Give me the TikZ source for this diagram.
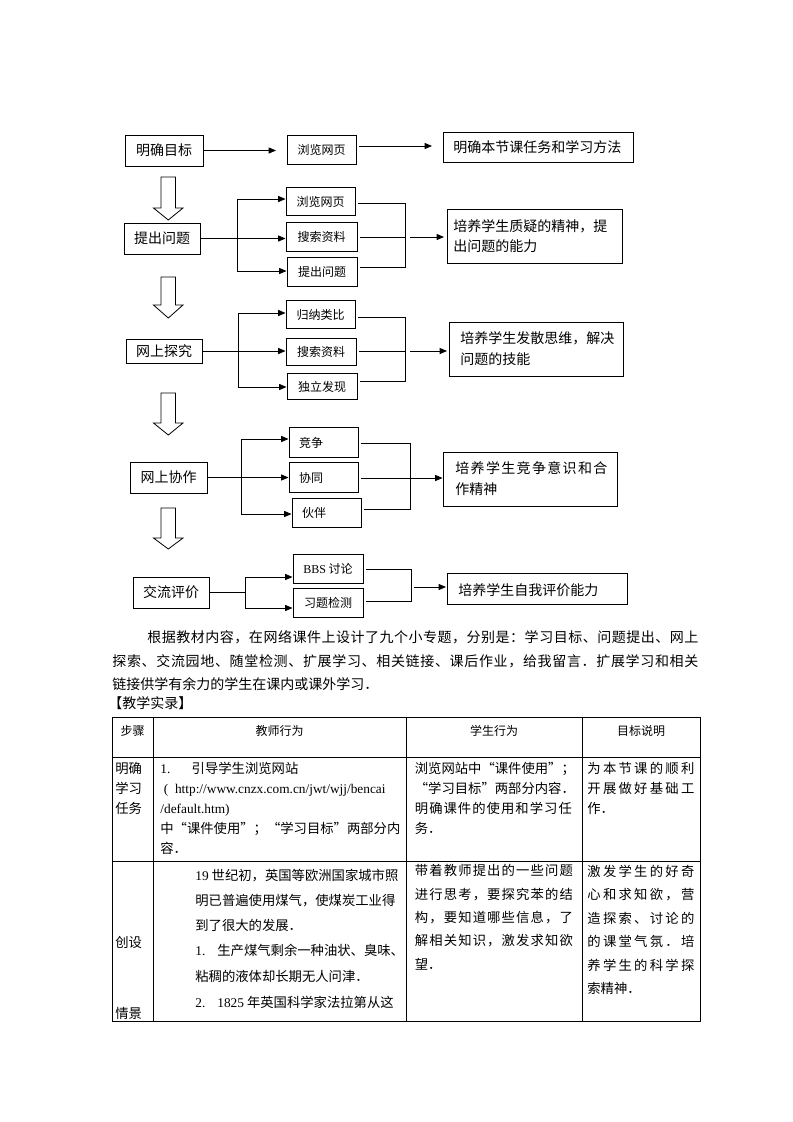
\documentclass[tikz,border=0pt]{standalone}
\usepackage{fontspec}
\setmainfont{Noto Sans CJK SC}
\newfontfamily\lat{Liberation Serif}
\usetikzlibrary{arrows.meta}
\newcommand\fs[1]{\fontsize{#1pt}{#1pt}\selectfont}
% spread a run of CJK characters evenly over a given width (in px)
\def\spreadchars#1{\spreadfirst#1\relax}
\def\spreadfirst#1{#1\spreadrest}
\def\spreadrest#1{\ifx\relax#1\else\hskip 0pt plus 1fil #1\expandafter\spreadrest\fi}
\newcommand\jl[2]{\makebox[\dimexpr #1pt*3/4\relax][s]{\spreadchars{#2}}}
\newcommand\oq{\makebox[1em][r]{“}}
\newcommand\cq{\makebox[1em][l]{”}}
\begin{document}
\begin{tikzpicture}[x=0.75pt,y=-0.75pt,line width=0.6pt,
  every node/.style={inner sep=0pt,text height=0.83em,text depth=0.07em},
  bx/.style 2 args={draw,line width=0.7pt,minimum width=#1*0.75pt,minimum height=#2*0.75pt,font=\fs{10.5}},
  sb/.style 2 args={bx={#1}{#2},font=\fs{9}},
  lft/.style={text width=36.75pt,align=left},
  txt/.style={anchor=west,font=\fs{10.5}},
  tb/.style={anchor=west,font=\fs{10}},
  hd/.style={font=\fs{9}},
  arr/.style={-{Triangle[length=5.5pt,width=4.5pt]}},
  hol/.style={draw,line width=0.6pt,fill=white,line join=miter}]
\useasboundingbox (0,0) rectangle (793,1122);
\fill[white] (0,0) rectangle (793,1122);

% ---------- left column boxes
\node[bx={78}{31}] (A1) at (164,150.5) {明确目标};
\node[bx={76}{31}] (A2) at (162,238.5) {提出问题};
\node[bx={76}{24}] (A3) at (164,351) {网上探究};
\node[bx={77}{31}] (A4) at (168.5,477.5) {网上协作};
\node[bx={76}{31}] (A5) at (171,592.5) {交流评价};

% ---------- middle boxes
\node[sb={69}{29}] (B1) at (321.5,149.5) {浏览网页};
\node[sb={69}{28}] (B2a) at (320.5,201) {浏览网页};
\node[sb={71}{29}] (B2b) at (321.5,236.5) {搜索资料};
\node[sb={70}{29}] (B2c) at (322,271.5) {提出问题};
\node[sb={69}{28}] (B3a) at (320.5,314) {归纳类比};
\node[sb={70}{27}] (B3b) at (321,351.5) {搜索资料};
\node[sb={70}{26}] (B3c) at (322,386) {独立发现};
\node[sb={69}{30},lft] (B4a) at (323.5,442) {竞争};
\node[sb={69}{30},lft] (B4b) at (323.5,477) {协同};
\node[sb={69}{29},lft] (B4c) at (326.5,512.5) {伙伴};
\node[sb={70}{29}] (B5a) at (328,568.5) {{\lat BBS} 讨论};
\node[sb={70}{29}] (B5b) at (328,602.5) {习题检测};

% ---------- right boxes
\node[bx={190}{30}] (C1) at (538,147) {};
\node[txt] (C1t) at (453,147) {明确本节课任务和学习方法};
\node[bx={175}{54}] (C2) at (534.5,236) {};
\node[txt] (C2t1) at (453,226) {培养学生质疑的精神，提};
\node[txt] (C2t2) at (453,246) {出问题的能力};
\node[bx={174}{54}] (C3) at (536,349) {};
\node[txt] (C3t1) at (460,338.5) {培养学生发散思维，解决};
\node[txt] (C3t2) at (460,359) {问题的技能};
\node[bx={174}{54}] (C4) at (530,479) {};
\node[txt] (C4t1) at (455,468.5) {\jl{152}{培养学生竞争意识和合}};
\node[txt] (C4t2) at (455,489) {作精神};
\node[bx={180}{31}] (C5) at (537,588.5) {};
\node[txt] (C5t) at (458,590) {培养学生自我评价能力};

% ---------- hollow arrows
\foreach \t/\b/\p in {177/208/220, 277/305/318, 393/423/435, 508/538/549}{
  \draw[hol] (161,\t) -- (175.5,\t) -- (175.5,\b) -- (183,\b) -- (168.3,\p) -- (153.5,\b) -- (161,\b) -- cycle;
}

% ---------- row 1 connectors
\coordinate (e1) at (276,150.5);
\draw[arr] (A1.east) -- (e1);
\coordinate (s1) at (359,146);
\coordinate (e2) at (432,146);
\draw[arr] (s1) -- (e2);

% ---------- row 2 connectors
\draw[arr] (A2.east) -- (A2.east -| B2b.west);
\coordinate (v2t) at (237,199);
\coordinate (v2b) at (237,271);
\draw (v2t) -- (v2b);
\draw[arr] (v2t) -- (v2t -| B2a.west);
\draw[arr] (v2b) -- (v2b -| B2c.west);
\coordinate (q2a) at (358,203);
\coordinate (r2t) at (405,203);
\coordinate (r2b) at (405,267);
\coordinate (q2c) at (360,267);
\coordinate (q2b) at (360,237);
\coordinate (r2m) at (405,237);
\draw (q2a) -- (r2t) -- (r2b) -- (q2c);
\draw (q2b) -- (r2m);
\coordinate (s2) at (410,237);
\coordinate (t2) at (444,237);
\draw[arr] (s2) -- (t2);

% ---------- row 3 connectors
\draw[arr] (A3.east) -- (A3.east -| B3b.west);
\coordinate (v3t) at (238,313);
\coordinate (v3b) at (238,387);
\draw (v3t) -- (v3b);
\draw[arr] (v3t) -- (v3t -| B3a.west);
\draw[arr] (v3b) -- (v3b -| B3c.west);
\coordinate (q3a) at (358,317);
\coordinate (r3t) at (405,317);
\coordinate (r3b) at (405,381);
\coordinate (q3c) at (360,381);
\coordinate (q3b) at (359,351);
\coordinate (r3m) at (405,351);
\draw (q3a) -- (r3t) -- (r3b) -- (q3c);
\draw (q3b) -- (r3m);
\coordinate (s3) at (410,351);
\coordinate (t3) at (447,351);
\draw[arr] (s3) -- (t3);

% ---------- row 4 connectors
\draw[arr] (A4.east) -- (A4.east -| B4b.west);
\coordinate (v4t) at (241,439);
\coordinate (v4b) at (241,514);
\draw (v4t) -- (v4b);
\draw[arr] (v4t) -- (v4t -| B4a.west);
\draw[arr] (v4b) -- (v4b -| B4c.west);
\coordinate (q4a) at (361,443);
\coordinate (r4t) at (410,443);
\coordinate (r4b) at (410,509);
\coordinate (q4c) at (364,509);
\coordinate (q4b) at (361,478);
\coordinate (r4m) at (410,478);
\draw (q4a) -- (r4t) -- (r4b) -- (q4c);
\draw (q4b) -- (r4m);
\draw[arr] (r4m) -- (r4m -| C4.west);

% ---------- row 5 connectors
\coordinate (v5m) at (245,592.5);
\coordinate (v5t) at (245,577);
\coordinate (v5b) at (245,608);
\draw (A5.east) -- (v5m);
\draw (v5t) -- (v5b);
\draw[arr] (v5t) -- (v5t -| B5a.west);
\draw[arr] (v5b) -- (v5b -| B5b.west);
\coordinate (q5a) at (366,569);
\coordinate (r5t) at (411,569);
\coordinate (r5b) at (411,601);
\coordinate (q5b) at (366,601);
\draw (q5a) -- (r5t) -- (r5b) -- (q5b);
\coordinate (s5) at (414,587);
\coordinate (t5) at (446,587);
\draw[arr] (s5) -- (t5);

% ---------- paragraph
\node[txt] (p1) at (147,637) {\jl{551}{根据教材内容，在网络课件上设计了九个小专题，分别是：学习目标、问题提出、网上}};
\node[txt] (p2) at (112,661) {\jl{586}{探索、交流园地、随堂检测、扩展学习、相关链接、课后作业，给我留言．扩展学习和相关}};
\node[txt] (p3) at (112,684) {链接供学有余力的学生在课内或课外学习．};
\node[txt] (p4) at (108,703) {【教学实录】};

% ---------- table
\draw (112,717) rectangle (700,1021);
\draw (112,757) -- (700,757);
\draw (112,861) -- (700,861);
\draw (153,717) -- (153,1021);
\draw (406,717) -- (406,1021);
\draw (582,717) -- (582,1021);

\node[hd] (h1) at (132.5,730) {步骤};
\node[hd] (h2) at (279.5,730) {教师行为};
\node[hd] (h3) at (494,730) {学生行为};
\node[hd] (h4) at (641,730) {目标说明};

\node[tb] at (115,768) {明确};
\node[tb] at (115,788) {学习};
\node[tb] at (115,808) {任务};
\node[tb] at (160,768) {{\lat 1.}\hspace{16pt}引导学生浏览网站};
\node[tb] at (163.5,788) {\lat (\hspace{5pt}http://www.cnzx.com.cn/jwt/wjj/bencai};
\node[tb] at (160,808) {\lat /default.htm)};
\node[tb] at (160,828) {中\oq 课件使用\cq ；\oq 学习目标\cq 两部分内};
\node[tb] at (160,848) {容．};
\node[tb] at (414.5,768) {浏览网站中\oq 课件使用\cq ；};
\node[tb] at (414.5,788) {\oq 学习目标\cq 两部分内容．};
\node[tb] at (414.5,808) {\jl{157}{明确课件的使用和学习任}};
\node[tb] at (414.5,828) {务．};
\node[tb] at (587,768) {\jl{107}{为本节课的顺利}};
\node[tb] at (587,788) {\jl{107}{开展做好基础工}};
\node[tb] at (587,808) {作．};

\node[tb] at (115,942) {创设};
\node[tb] at (115,1013) {情景};
\node[tb] at (195,875) {{\lat 19} 世纪初，英国等欧洲国家城市照};
\node[tb] at (195,900) {明已普遍使用煤气，使煤炭工业得};
\node[tb] at (195,925) {到了很大的发展．};
\node[tb] at (195,950) {{\lat 1.}\hspace{9pt}生产煤气剩余一种油状、臭味、};
\node[tb] at (195,976) {粘稠的液体却长期无人问津．};
\node[tb] at (195,1002) {{\lat 2.}\hspace{9pt}{\lat 1825} 年英国科学家法拉第从这};
\node[tb] at (414.5,870) {\jl{158}{带着教师提出的一些问题}};
\node[tb] at (414.5,894) {\jl{158}{进行思考，要探究苯的结}};
\node[tb] at (414.5,917) {\jl{158}{构，要知道哪些信息，了}};
\node[tb] at (414.5,940) {\jl{158}{解相关知识，激发求知欲}};
\node[tb] at (414.5,964) {望．};
\node[tb] at (587,871) {\jl{107}{激发学生的好奇}};
\node[tb] at (587,894) {\jl{107}{心和求知欲，营}};
\node[tb] at (587,918) {\jl{107}{造探索、讨论的}};
\node[tb] at (587,941) {\jl{107}{的课堂气氛．培}};
\node[tb] at (587,965) {\jl{107}{养学生的科学探}};
\node[tb] at (587,988) {索精神．};
\end{tikzpicture}
\end{document}
